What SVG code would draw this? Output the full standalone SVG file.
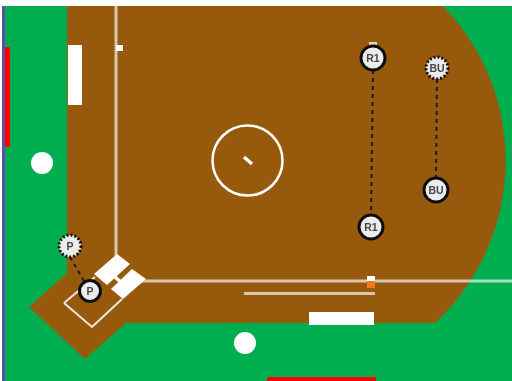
<svg xmlns="http://www.w3.org/2000/svg" width="512" height="381" viewBox="0 0 512 381">
<style>
.w{fill:#fff}
.foul{fill:none;stroke:#fff;stroke-opacity:.65;stroke-width:3}
.mark{fill:none;stroke:#fff;stroke-width:2.5}
.conn{fill:none;stroke:#1a1a1a;stroke-width:2;stroke-dasharray:4 4}
.solid{fill:#ececec;stroke:#111;stroke-width:3}
.dash{fill:#ececec;stroke:#111;stroke-width:3;stroke-dasharray:2 2}
text{font-family:"Liberation Sans",Arial,sans-serif;font-size:10.500px;font-weight:bold;fill:#444;text-anchor:middle}
</style>
<defs><filter id="soft" x="-5%" y="-5%" width="110%" height="110%"><feGaussianBlur stdDeviation="0.7"/></filter></defs>
<rect width="512" height="381" fill="#fff"/>
<g filter="url(#soft)">
<rect x="5" y="6" width="507" height="375" fill="#00ad4f"/>
<rect x="2" y="6" width="3" height="375" fill="#5b4fa3"/>
<rect x="5" y="47" width="5" height="100" rx="1.5" fill="#f00"/>
<rect x="267" y="377" width="109" height="6" rx="2" fill="#f00"/>
<path d="M67 6H443A222 222 0 0 1 435 323H126L85 359L29 307L67 273Z" fill="#975a10"/>
<circle class="w" cx="42" cy="163" r="11"/>
<circle class="w" cx="245" cy="343" r="11"/>
<rect class="w" x="68" y="45" width="14" height="60"/>
<rect class="w" x="116" y="45" width="7" height="6"/>
<rect class="w" x="309" y="312" width="65" height="13"/>
<path class="foul" d="M116 6V256"/>
<path class="foul" d="M140 281H512"/>
<path class="foul" d="M244 293.500H375"/>
<circle class="mark" cx="247.500" cy="160.500" r="35"/>
<path class="mark" style="stroke-width:3.500" d="M244 157L252 164"/>
<path d="M64 303L92 327L122 299M64 303L95 277" fill="none" stroke="#fff" stroke-opacity=".85" stroke-width="2"/>
<path class="mark" style="stroke-width:3.500" d="M115 277L123 284"/>
<polygon class="w" points="117,254 130,264 107,285 94,274"/>
<polygon class="w" points="132,269 146,279 123,299 111,289"/>
<rect class="w" x="367" y="276" width="8" height="6"/>
<rect x="367" y="281" width="8" height="7" fill="#f47a1f"/>
<rect x="369" y="42" width="8" height="3" fill="#e8d2b0"/>
<g id="connectors">
<path class="conn" d="M373 70L371 215"/>
<path class="conn" d="M437 79L436 178"/>
<path class="conn" d="M70 257L84 281"/>
</g>
<g id="node-p1"><circle class="dash" cx="70" cy="246" r="11"/><text x="70" y="250">P</text></g>
<g id="node-p2"><circle class="solid" cx="90" cy="291" r="10.500"/><text x="90" y="295">P</text></g>
<g id="node-r1-a"><circle class="solid" cx="373" cy="58" r="12"/><text x="373" y="62">R1</text></g>
<g id="node-r1-b"><circle class="solid" cx="371" cy="227" r="12"/><text x="371" y="231">R1</text></g>
<g id="node-bu-a"><circle class="dash" cx="437" cy="68" r="11"/><text x="437" y="72">BU</text></g>
<g id="node-bu-b"><circle class="solid" cx="436" cy="190" r="12"/><text x="436" y="194">BU</text></g>
</g>
</svg>
